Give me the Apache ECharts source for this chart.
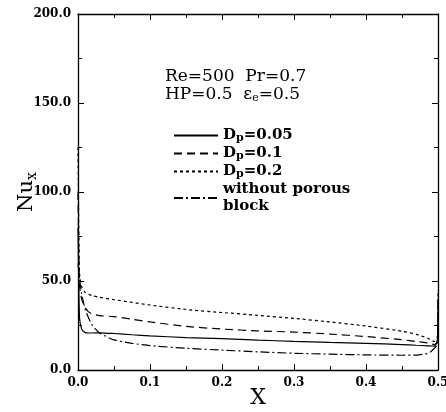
<!DOCTYPE html>
<html><head><meta charset="utf-8">
<script src="https://cdn.jsdelivr.net/npm/echarts@6/dist/echarts.min.js"></script>
<style>html,body{margin:0;padding:0;background:#fff}#c{width:446px;height:412px}</style>
</head><body><div id="c"></div>
<script>
const xs = [0, 0.002, 0.005, 0.01, 0.015, 0.02, 0.03, 0.05, 0.075, 0.1, 0.15, 0.2, 0.25, 0.3, 0.35, 0.4, 0.45, 0.47, 0.485, 0.49, 0.495, 0.499, 0.5];
const dp005 = [80, 30, 23, 21, 20.8, 20.8, 20.9, 20.5, 19.8, 19.2, 18.2, 17.6, 16.8, 16.1, 15.5, 15.0, 14.3, 13.9, 13.6, 13.5, 13.4, 16, 40];
const dp01  = [100, 48, 40, 35, 32.5, 31.5, 30.5, 30, 28.5, 27, 24.5, 23, 22, 21.3, 20.2, 18.8, 17, 16, 15.2, 14.8, 14.3, 16, 40];
const dp02  = [125, 55, 47, 43.5, 42.5, 41.7, 40.8, 39.5, 38, 36.5, 34, 32.3, 30.7, 29, 27, 24.7, 21.8, 20, 18, 17, 16, 18, 45];
const noBlock = [60, 52, 43, 34, 29, 25, 20.8, 16.9, 15, 13.7, 12.2, 11.2, 10.2, 9.4, 8.9, 8.5, 8.3, 8.4, 9.2, 10.3, 12.3, 14, 30];
const seriesNames = ['Dp=0.05', 'Dp=0.1', 'Dp=0.2', 'without porous block'];
const xTicks = [0, 0.1, 0.2, 0.3, 0.4, 0.5];
const yTicks = [0, 50, 100, 150, 200];

const pairs = a => xs.map((x, i) => [x, a[i]]);
const serif = 'DejaVu Serif';
const chart = echarts.init(document.getElementById('c'));
const axisLine = () => ({show: true, onZero: false, lineStyle: {color: '#000', width: 1.3}});
const tick = () => ({show: true, inside: true, length: 6, lineStyle: {color: '#000', width: 1}});
const minor = () => ({show: true, splitNumber: 2, length: 4, lineStyle: {color: '#000', width: 1}});
const rich = {
  a: {fontFamily: serif, fontWeight: 'bold', fontSize: 15, color: '#000', lineHeight: 17},
  s: {fontFamily: serif, fontWeight: 'bold', fontSize: 11, color: '#000', lineHeight: 17, padding: [5, 0, 0, 0]}
};
const mkSeries = (name, data, type) => ({
  name, type: 'line', data: pairs(data), symbol: 'none', smooth: 0.2,
  itemStyle: {color: '#000'},
  lineStyle: {color: '#000', width: 1.2, type}
});
chart.setOption({
  animation: false,
  grid: {left: 78, right: 8, top: 14, bottom: 42, containLabel: false, outerBoundsMode: 'none'},
  legend: {
    orient: 'vertical', left: 168, top: 122, itemWidth: 44, itemHeight: 12, itemGap: 1,
    data: seriesNames,
    itemStyle: {color: 'rgba(0,0,0,0)', borderWidth: 0},
    formatter: n => {
      if (n.startsWith('Dp')) return '{a|D}{s|p}{a|' + n.slice(2) + '}';
      return '{a|without porous}\n{a|block}';
    },
    textStyle: {rich, lineHeight: 17}
  },
  xAxis: [{
    type: 'value', min: 0, max: 0.5, interval: 0.1, position: 'bottom',
    axisLine: axisLine(), splitLine: {show: false}, axisTick: tick(), minorTick: minor(),
    axisLabel: {formatter: v => v.toFixed(1), fontFamily: serif, fontWeight: 'bold', fontSize: 12, color: '#000', margin: 7},
    name: 'X', nameLocation: 'middle', nameGap: 17, nameMoveOverlap: false,
    nameTextStyle: {fontFamily: serif, fontSize: 22, color: '#000', verticalAlign: 'top', padding: [0, 0, 0, 0]}
  }, {
    type: 'value', min: 0, max: 0.5, interval: 0.1, position: 'top',
    axisLine: axisLine(), splitLine: {show: false}, axisLabel: {show: false},
    axisTick: tick(), minorTick: minor()
  }],
  yAxis: [{
    type: 'value', min: 0, max: 200, interval: 50, position: 'left',
    axisLine: axisLine(), splitLine: {show: false}, axisTick: tick(), minorTick: minor(),
    axisLabel: {formatter: v => v.toFixed(1), fontFamily: serif, fontWeight: 'bold', fontSize: 12, color: '#000', margin: 7},
    name: '{n|Nu}{x|x}', nameLocation: 'middle', nameGap: 39, nameRotate: 90, nameMoveOverlap: false,
    nameTextStyle: {rich: {
      n: {fontFamily: serif, fontSize: 21, color: '#000'},
      x: {fontFamily: serif, fontSize: 14, color: '#000', padding: [10, 0, 0, 0]}
    }}
  }, {
    type: 'value', min: 0, max: 200, interval: 50, position: 'right',
    axisLine: axisLine(), splitLine: {show: false}, axisLabel: {show: false},
    axisTick: tick(), minorTick: minor()
  }],
  graphic: [{
    type: 'text', left: 165, top: 68,
    style: {text: 'Re=500  Pr=0.7', font: '17px "DejaVu Serif"', fill: '#000'}
  }, {
    type: 'text', left: 165, top: 86,
    style: {
      text: '{a|HP=0.5  ε}{s|e}{a|=0.5}',
      rich: {a: {font: '17px "DejaVu Serif"', fill: '#000'}, s: {font: '11px "DejaVu Serif"', fill: '#000', padding: [7, 0, 0, 0]}}
    }
  }],
  series: [
    mkSeries(seriesNames[0], dp005, 'solid'),
    mkSeries(seriesNames[1], dp01, [8, 5]),
    mkSeries(seriesNames[2], dp02, [3, 3]),
    mkSeries(seriesNames[3], noBlock, [9, 3, 2, 3])
  ]
});
</script></body></html>
